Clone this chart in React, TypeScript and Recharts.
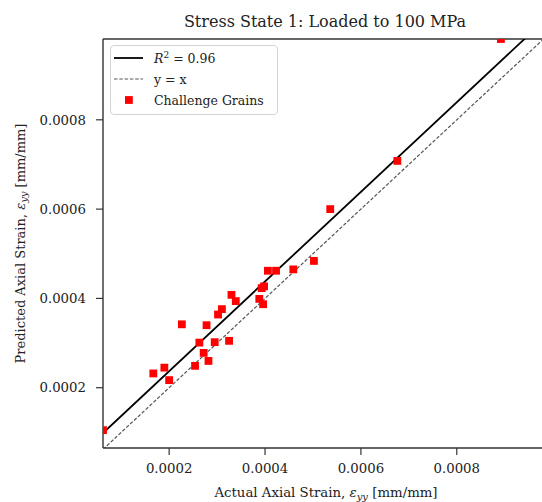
import { ReferenceLine, Scatter, ScatterChart, XAxis, YAxis } from "recharts";

// values in mm/mm
const actualStrain = [
  0.000062, 0.000167, 0.00019, 0.0002, 0.0002265, 0.000254, 0.000263, 0.000272,
  0.000282, 0.000278, 0.000295, 0.000302, 0.00031, 0.000325, 0.00033, 0.000339,
  0.000388, 0.000396, 0.000393, 0.000398, 0.000406, 0.000423, 0.000459, 0.000502,
  0.000536, 0.000676, 0.000892,
];
const predictedStrain = [
  0.000105, 0.000232, 0.000245, 0.000217, 0.000342, 0.000249, 0.000301, 0.000278,
  0.00026, 0.00034, 0.000302, 0.000364, 0.000376, 0.000305, 0.000408, 0.000394,
  0.000399, 0.000387, 0.000423, 0.000427, 0.000462, 0.000462, 0.000465, 0.000484,
  0.0006, 0.000708, 0.000981,
];

// regression fit line and y = x reference, end points
const fitX = [0.000062, 0.00098];
const fitY = [0.0000986, 0.00102];
const identity = [0.000062, 0.00099];

const X_DOMAIN = [0.000062, 0.000984];
const Y_DOMAIN = [0.000065, 0.000981];
const ticks = [0.0002, 0.0004, 0.0006, 0.0008];

const legendLabels = ["= 0.96", "y = x", "Challenge Grains"];

const points = actualStrain.map((x, i) => ({ x, y: predictedStrain[i] }));

const FONT = "'DejaVu Serif', serif";
const INK = "#222";

const Square = (props: any) => {
  const { cx, cy } = props;
  if (cx == null || cy == null) return null;
  return <rect x={cx - 3.9} y={cy - 3.9} width={7.8} height={7.8} fill="#ff0000" />;
};

const XLabel = ({ viewBox }: any) => (
  <text
    x={viewBox.x + viewBox.width / 2 + 2}
    y={viewBox.y + 49}
    textAnchor="middle"
    fontFamily={FONT}
    fontSize={13.3}
    fill={INK}
  >
    Actual Axial Strain, <tspan fontStyle="italic">ε</tspan>
    <tspan fontStyle="italic" fontSize={10} dy={3}>yy</tspan>
    <tspan dy={-3}> [mm/mm]</tspan>
  </text>
);

const YLabel = ({ viewBox }: any) => {
  const cx = viewBox.x + 20;
  const cy = viewBox.y + viewBox.height / 2;
  return (
    <text
      x={cx}
      y={cy}
      transform={`rotate(-90 ${cx} ${cy})`}
      textAnchor="middle"
      dominantBaseline="central"
      fontFamily={FONT}
      fontSize={13}
      fill={INK}
    >
      Predicted Axial Strain, <tspan fontStyle="italic">ε</tspan>
      <tspan fontStyle="italic" fontSize={10} dy={3}>yy</tspan>
      <tspan dy={-3}> [mm/mm]</tspan>
    </text>
  );
};

const Title = ({ viewBox }: any) => (
  <text
    x={viewBox.x + viewBox.width / 2 + 1}
    y={viewBox.y - 12.5}
    textAnchor="middle"
    fontFamily={FONT}
    fontSize={16}
    fill={INK}
  >
    Stress State 1: Loaded to 100 MPa
  </text>
);

const tickStyle = { fontFamily: FONT, fontSize: 13.3, fill: INK };
const fmt = (v: number) => v.toFixed(4);

export default function App() {
  return (
    <div
      style={{
        position: "absolute",
        left: 0,
        top: 0,
        width: 542,
        height: 502,
        overflow: "hidden",
        background: "#fff",
      }}
    >
      <ScatterChart
        width={560}
        height={502}
        margin={{ top: 39, right: 15, bottom: 0, left: 0 }}
      >
        <XAxis
          type="number"
          dataKey="x"
          domain={X_DOMAIN}
          allowDataOverflow
          ticks={ticks}
          tickFormatter={fmt}
          height={54}
          tick={tickStyle}
          tickSize={7}
          tickMargin={9}
          tickLine={{ stroke: "#333", strokeWidth: 1.2 }}
          axisLine={{ stroke: "#333", strokeWidth: 1.4 }}
          label={{ content: XLabel }}
        />
        <YAxis
          type="number"
          dataKey="y"
          domain={Y_DOMAIN}
          allowDataOverflow
          ticks={ticks}
          tickFormatter={fmt}
          width={103}
          tick={tickStyle}
          tickSize={7}
          tickMargin={10}
          tickLine={{ stroke: "#333", strokeWidth: 1.2 }}
          axisLine={{ stroke: "#333", strokeWidth: 1.4 }}
          label={{ content: YLabel }}
        />
        <ReferenceLine
          y={Y_DOMAIN[1]}
          stroke="#333"
          strokeWidth={1.4}
          label={{ content: Title }}
        />
        <ReferenceLine
          segment={[
            { x: identity[0], y: identity[0] },
            { x: identity[1], y: identity[1] },
          ]}
          ifOverflow="hidden"
          stroke="#555"
          strokeWidth={1.2}
          strokeDasharray="3.5 1.8"
        />
        <ReferenceLine
          segment={[
            { x: fitX[0], y: fitY[0] },
            { x: fitX[1], y: fitY[1] },
          ]}
          ifOverflow="hidden"
          stroke="#000"
          strokeWidth={1.8}
        />
        <Scatter data={points} shape={Square} isAnimationActive={false} />
      </ScatterChart>

      <div
        style={{
          position: "absolute",
          left: 110,
          top: 45,
          width: 168,
          height: 70,
          border: "1px solid #d4d4d4",
          borderRadius: 4,
          background: "rgba(255,255,255,0.85)",
          fontFamily: FONT,
          fontSize: 12.5,
          color: INK,
          boxSizing: "border-box",
        }}
      >
        {legendLabels.map((label, i) => (
          <div
            key={label}
            style={{
              position: "absolute",
              left: 2,
              top: 3 + i * 21,
              height: 18,
              display: "flex",
              alignItems: "center",
              whiteSpace: "nowrap",
            }}
          >
            <svg width={40} height={18} style={{ marginRight: 1 }}>
              {i === 0 && <line x1={1} x2={30} y1={9} y2={9} stroke="#000" strokeWidth={1.8} />}
              {i === 1 && (
                <line x1={1} x2={30} y1={9} y2={9} stroke="#555" strokeWidth={1.2} strokeDasharray="3.5 1.8" />
              )}
              {i === 2 && <rect x={12} y={5.1} width={7.8} height={7.8} fill="#ff0000" />}
            </svg>
            {i === 0 ? (
              <span>
                <i>R</i>
                <sup style={{ fontSize: 9, verticalAlign: 5, lineHeight: 0 }}>2</sup> {label}
              </span>
            ) : (
              <span>{label}</span>
            )}
          </div>
        ))}
      </div>
    </div>
  );
}
